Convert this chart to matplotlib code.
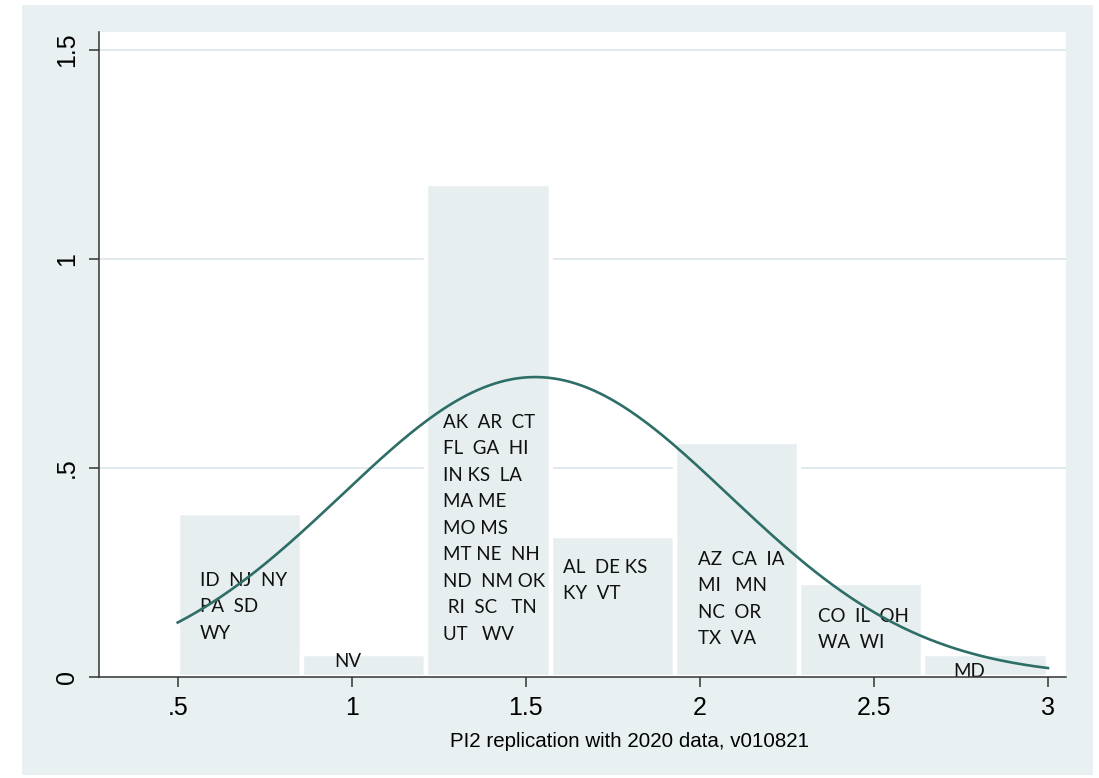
import matplotlib
matplotlib.use("Agg")
import matplotlib.pyplot as plt
import numpy as np
from matplotlib.patches import Rectangle

# histogram (density scale), 7 bins from 0.5 to 3.0
bin_start = 0.5
bin_width = 0.357
densities = [0.393, 0.056, 1.18, 0.337, 0.562, 0.225, 0.056]

# fitted normal curve
norm_mean = 1.527
norm_sd = 0.556
curve_lo, curve_hi = 0.5, 3.0

# state labels per bin
bin_labels = [
    ["ID  NJ  NY", "PA  SD", "WY"],
    ["NV"],
    ["AK  AR  CT", "FL  GA  HI", "IN KS  LA", "MA ME", "MO MS",
     "MT NE  NH", "ND  NM OK", " RI  SC   TN", "UT   WV"],
    ["AL  DE KS", "KY  VT"],
    ["AZ  CA  IA", "MI   MN", "NC  OR", "TX  VA"],
    ["CO  IL  OH", "WA  WI"],
    ["MD"],
]
# anchor of first line (x, y) in data units, and horizontal alignment
label_anchor = [(0.564, 0.231, "left"), (0.989, 0.038, "center"),
                (1.262, 0.610, "left"), (1.607, 0.263, "left"),
                (1.995, 0.282, "left"), (2.339, 0.145, "left"),
                (2.773, 0.014, "center")]
line_step = 0.0634

xticks = [0.5, 1, 1.5, 2, 2.5, 3]
xtick_labels = [".5", "1", "1.5", "2", "2.5", "3"]
yticks = [0, 0.5, 1, 1.5]
ytick_labels = ["0", ".5", "1", "1.5"]
xlabel = "PI2 replication with 2020 data, v010821"

bg = "#e9f0f2"
bar_col = "#e7eef0"
curve_col = "#2d6e66"

plt.rcParams["font.family"] = ["Liberation Sans", "DejaVu Sans"]

fig = plt.figure(figsize=(10.99, 7.78), dpi=100, facecolor="white")
fig.patches.append(Rectangle((22 / 1099, 3 / 778), 1071 / 1099, 770 / 778,
                             transform=fig.transFigure, facecolor=bg,
                             edgecolor="none", zorder=-10))
ax = fig.add_axes([0.0898, 0.1298, 0.8802, 0.8291])
ax.set_facecolor("white")

edges = bin_start + bin_width * np.arange(len(densities))
ax.bar(edges, densities, width=bin_width, align="edge", color=bar_col,
       edgecolor="white", linewidth=3.2, zorder=1)

xs = np.linspace(curve_lo, curve_hi, 300)
ys = np.exp(-0.5 * ((xs - norm_mean) / norm_sd) ** 2) / (norm_sd * np.sqrt(2 * np.pi))
ax.plot(xs, ys, color=curve_col, lw=1.9, zorder=2.3)

for lines, (lx, ly, ha) in zip(bin_labels, label_anchor):
    for i, s in enumerate(lines):
        ax.text(lx, ly - i * line_step, s, ha=ha, va="center", fontsize=13.5,
                family=["Lato", "DejaVu Sans"], color="#111111", zorder=2.2,
                clip_on=True)

ax.set_xlim(0.273, 3.052)
ax.set_ylim(0, 1.543)
ax.set_xticks(xticks)
ax.set_xticklabels(xtick_labels)
ax.set_yticks(yticks)
ax.set_yticklabels(ytick_labels, rotation=90, va="center")
for y in yticks[1:]:
    ax.axhline(y, color="#e0e9ec", lw=1.4, zorder=0.5)

ax.tick_params(axis="both", length=7, width=1.1, color="#333333",
               labelsize=18, pad=7)
for side in ["top", "right"]:
    ax.spines[side].set_visible(False)
for side in ["left", "bottom"]:
    ax.spines[side].set_color("#333333")
    ax.spines[side].set_linewidth(1.1)

ax.set_xlabel(xlabel, fontsize=14.8)
ax.xaxis.set_label_coords(0.549, -0.085)

fig.savefig("out.png", dpi=100, facecolor="white")
